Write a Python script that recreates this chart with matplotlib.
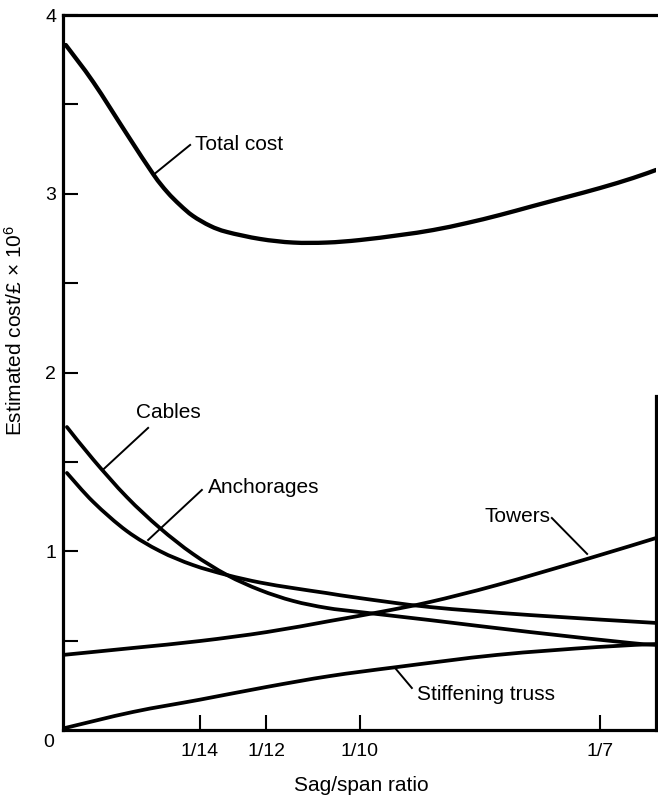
import numpy as np
import matplotlib
matplotlib.use("Agg")
import matplotlib.pyplot as plt
from matplotlib.path import Path
from matplotlib.patches import PathPatch

plt.rcParams['font.family'] = ['Liberation Sans', 'DejaVu Sans']
plt.rcParams['mathtext.fontset'] = 'custom'
plt.rcParams['mathtext.rm'] = 'Liberation Sans'
plt.rcParams['mathtext.it'] = 'Liberation Sans'

# ---- data (sag/span ratio, cost in £ millions) ----
total_x = [0.0475, 0.0524, 0.0584, 0.0631, 0.0656, 0.0679, 0.0702, 0.0733,
           0.0763, 0.0822, 0.0881, 0.0941, 0.1000, 0.1072, 0.1131, 0.1191,
           0.1250, 0.1309, 0.1370, 0.1429, 0.1488, 0.1529]
total_y = [3.832, 3.625, 3.334, 3.110, 3.010, 2.937, 2.876, 2.820,
           2.786, 2.747, 2.727, 2.727, 2.741, 2.769, 2.797, 2.836,
           2.881, 2.931, 2.982, 3.032, 3.088, 3.133]

cables_x = [0.0477, 0.0524, 0.0584, 0.0643, 0.0702, 0.0763, 0.0822, 0.0881,
            0.0941, 0.1000, 0.1125, 0.1304, 0.1483, 0.1529]
cables_y = [1.695, 1.513, 1.303, 1.130, 0.985, 0.867, 0.783, 0.722,
            0.683, 0.660, 0.615, 0.548, 0.487, 0.476]

anch_x = [0.0477, 0.0524, 0.0584, 0.0643, 0.0702, 0.0763, 0.0822, 0.0881,
          0.0941, 0.1000, 0.1125, 0.1304, 0.1529]
anch_y = [1.438, 1.276, 1.113, 1.001, 0.923, 0.867, 0.825, 0.794,
          0.766, 0.738, 0.688, 0.643, 0.599]

towers_x = [0.0470, 0.0595, 0.0715, 0.0834, 0.0947, 0.1036, 0.1125, 0.1245,
            0.1406, 0.1529]
towers_y = [0.420, 0.459, 0.498, 0.548, 0.610, 0.660, 0.716, 0.811,
            0.957, 1.074]

truss_x = [0.0472, 0.0595, 0.0715, 0.0834, 0.0947, 0.1066, 0.1245, 0.1424, 0.1529]
truss_y = [0.010, 0.101, 0.170, 0.241, 0.302, 0.352, 0.420, 0.464, 0.481]

xtick_vals = [1/14, 1/12, 1/10, 1/7]
xtick_labels = ['1/14', '1/12', '1/10', '1/7']
ytick_major = [1, 2, 3, 4]
ytick_labels = ['1', '2', '3', '4']
ytick_minor = [0.5, 1.5, 2.5, 3.5]


def smooth_path(xs, ys):
    """Catmull-Rom curve through the points as cubic Bezier segments."""
    p = np.column_stack([xs, ys]).astype(float)
    verts = [p[0]]
    codes = [Path.MOVETO]
    n = len(p)
    for i in range(n - 1):
        p0 = p[i - 1] if i > 0 else p[i]
        p1 = p[i]
        p2 = p[i + 1]
        p3 = p[i + 2] if i + 2 < n else p[i + 1]
        c1 = p1 + (p2 - p0) / 6.0
        c2 = p2 - (p3 - p1) / 6.0
        verts += [c1, c2, p2]
        codes += [Path.CURVE4] * 3
    return Path(verts, codes)


fig = plt.figure(figsize=(6.58, 8.01), dpi=100)
ax = fig.add_axes([63/658, 1 - 730/801, (656 - 63)/658, (730 - 15)/801])
ax.set_xlim(0.0470, 0.1529)
ax.set_ylim(0, 4)

for xs, ys, lw in [(total_x, total_y, 3.1), (cables_x, cables_y, 2.7),
                   (anch_x, anch_y, 2.7), (towers_x, towers_y, 2.7),
                   (truss_x, truss_y, 2.7)]:
    ax.add_patch(PathPatch(smooth_path(xs, ys), fill=False, edgecolor='black',
                           lw=lw, capstyle='round', joinstyle='round', zorder=3))

# spines
for s in ['left', 'bottom', 'top']:
    ax.spines[s].set_linewidth(2.3)
ax.spines['right'].set_visible(False)
ax.axvline(ax.get_xlim()[1], ymin=0, ymax=1.87/4, color='black', lw=2.3,
           clip_on=False)

# ticks
ax.set_xticks(xtick_vals)
ax.set_xticklabels(xtick_labels)
ax.set_yticks(ytick_major)
ax.set_yticklabels(ytick_labels)
ax.set_yticks(ytick_minor, minor=True)
ax.tick_params(axis='both', which='both', direction='in', width=1.5,
               length=11, labelsize=14)
ax.tick_params(axis='x', pad=9)
ax.tick_params(axis='y', pad=5)
ax.annotate('0', xy=(0, 0), xycoords='axes fraction', xytext=(-10, -9),
            textcoords='offset points', ha='center', va='center', fontsize=14)

ax.set_xlabel('Sag/span ratio', fontsize=15)
ax.xaxis.set_label_coords(0.5025, -0.064)
ax.set_ylabel('Estimated cost/£ × 10$^{6}$', fontsize=15)
ax.yaxis.set_label_coords(-0.062, 0.559)

# labels with leader lines
lab_fs = 15
ax.text(0.0706, 3.278, 'Total cost', ha='left', va='center', fontsize=lab_fs)
ax.plot([0.0631, 0.0697], [3.105, 3.273], color='black', lw=1.4)

ax.text(0.0659, 1.779, 'Cables', ha='center', va='center', fontsize=lab_fs)
ax.plot([0.0541, 0.0622], [1.455, 1.690], color='black', lw=1.4)

ax.text(0.0729, 1.359, 'Anchorages', ha='left', va='center', fontsize=lab_fs)
ax.plot([0.0622, 0.0718], [1.063, 1.343], color='black', lw=1.4)

ax.text(0.1340, 1.192, 'Towers', ha='right', va='center', fontsize=lab_fs)
ax.plot([0.1343, 0.1406], [1.186, 0.985], color='black', lw=1.4)

ax.text(0.1102, 0.201, 'Stiffening truss', ha='left', va='center', fontsize=lab_fs)
ax.plot([0.1063, 0.1093], [0.347, 0.235], color='black', lw=1.4)

fig.savefig('out.png', dpi=100)
